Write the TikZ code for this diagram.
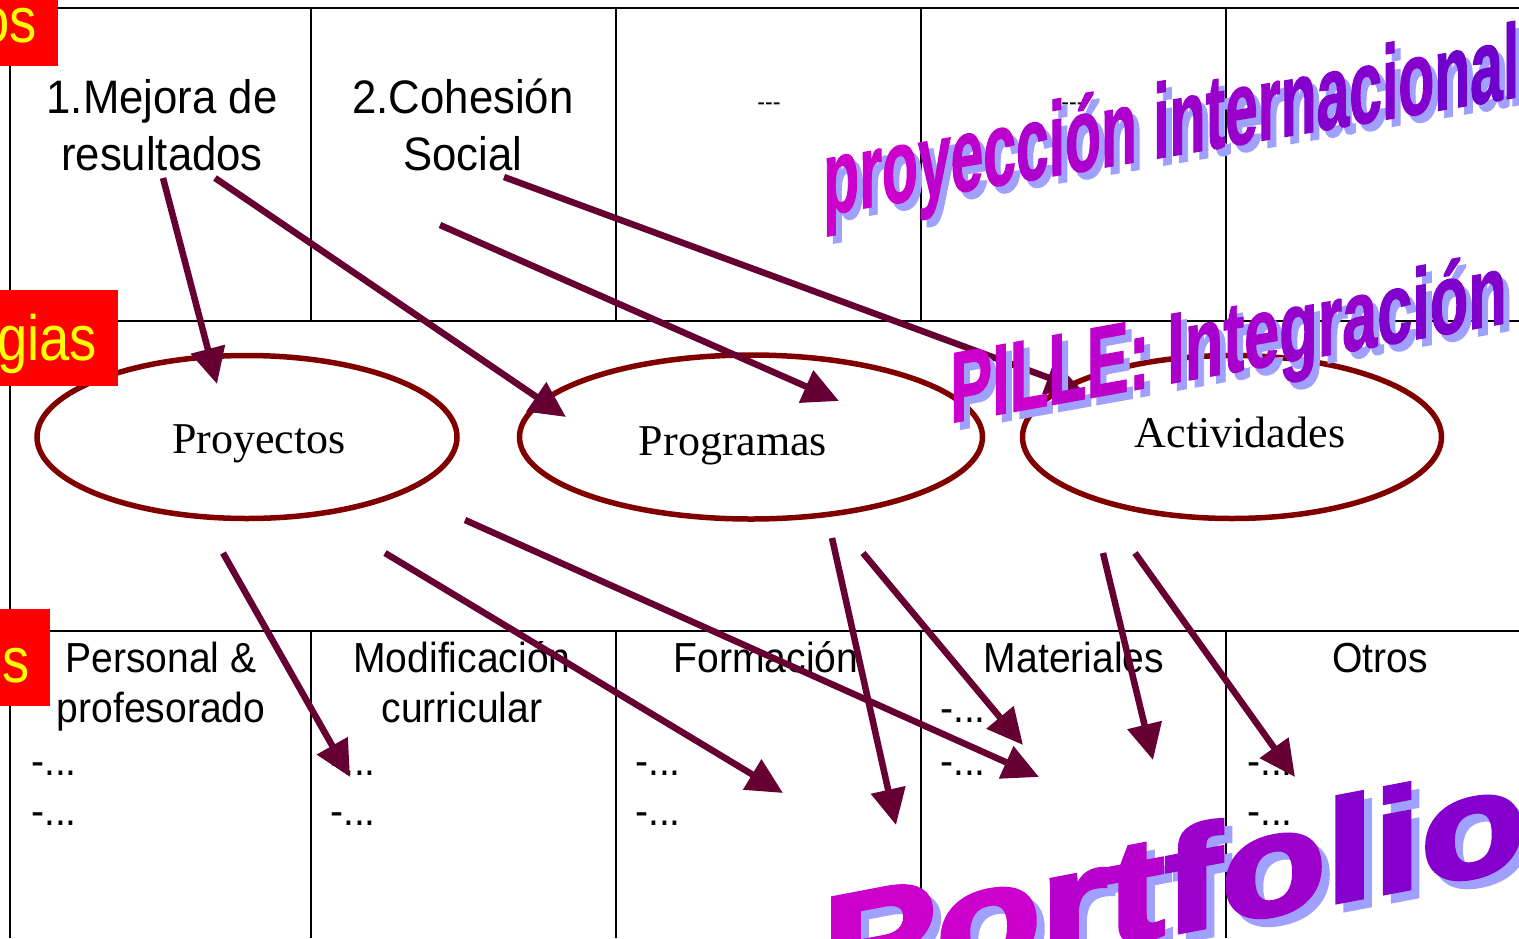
\documentclass[tikz,border=0pt]{standalone}
\usepackage{fontspec}
\usepackage{graphicx}
\setmainfont{Liberation Serif}
\newfontfamily\cellfont[FakeStretch=0.93]{Liberation Sans}
\newfontfamily\tagfont[FakeStretch=0.85]{Liberation Sans}
\newfontfamily\artfont[BoldFeatures={FakeBold=1.5}]{Liberation Sans}
\newfontfamily\heavyfont[BoldFeatures={FakeBold=3}]{Liberation Sans}
\usetikzlibrary{shapes.geometric, arrows.meta, positioning}
\definecolor{arrowwine}{RGB}{102, 0, 51}
\definecolor{ringred}{RGB}{128, 0, 0}
\definecolor{tagred}{RGB}{255, 0, 0}
\definecolor{tagyellow}{RGB}{255, 255, 0}
\definecolor{artmagenta}{RGB}{204, 0, 204}
\definecolor{artviolet}{RGB}{102, 0, 204}
\definecolor{artshadow}{RGB}{160, 160, 255}

\tikzset{
  gridline/.style={line width=2.8pt, black},
  ring/.style={ellipse, draw=ringred, line width=5.5pt, fill=white, inner sep=0pt},
  ringtext/.style={font=\fontsize{44}{50}\selectfont, anchor=base, inner sep=0pt},
  cellhead/.style={font=\cellfont\fontsize{47}{57}\selectfont, align=center, anchor=base, inner sep=0pt},
  areahead/.style={font=\cellfont\fontsize{42}{50}\selectfont, align=center, anchor=base, inner sep=0pt},
  dotitem/.style={font=\cellfont\fontsize{42}{50}\selectfont, anchor=base west, inner sep=0pt},
  tagbox/.style={fill=tagred, inner sep=0pt},
  tagtext/.style={font=\tagfont\fontsize{64}{64}\selectfont, text=tagyellow, anchor=base east, inner sep=0pt},
  relation/.style={draw=arrowwine, line width=6.5pt, -{Triangle[length=36pt, width=34pt]}},
  art/.style={font=\artfont\bfseries\fontsize{#1}{#1}\selectfont, anchor=base west, inner sep=0pt},
  artshade/.style={art=#1, text=artshadow},
  heavyart/.style={font=\heavyfont\bfseries\fontsize{#1}{#1}\selectfont, anchor=base west, inner sep=0pt},
  heavyshade/.style={heavyart=#1, text=artshadow}
}

\begin{document}
\begin{tikzpicture}[x=1pt, y=-1pt]
  \useasboundingbox (0,0) rectangle (1519,938);

  % Table grid
  \draw[gridline] (10,8) -- (1519,8);
  \draw[gridline] (10,321) -- (1519,321);
  \draw[gridline] (10,631) -- (1519,631);
  \draw[gridline] (10,8) -- (10,938);
  \draw[gridline] (311,8) -- (311,321);
  \draw[gridline] (616,8) -- (616,321);
  \draw[gridline] (921,8) -- (921,321);
  \draw[gridline] (1226,8) -- (1226,321);
  \draw[gridline] (311,631) -- (311,938);
  \draw[gridline] (616,631) -- (616,938);
  \draw[gridline] (921,631) -- (921,938);
  \draw[gridline] (1226,631) -- (1226,938);

  % Top row: aims
  \node[cellhead] (mejora) at (162,170) {1.Mejora de\\resultados};
  \node[cellhead] (cohesion) at (463,170) {2.Cohesión\\Social};
  \node[font=\cellfont\fontsize{25}{30}\selectfont, anchor=base, inner sep=0pt] (aim3) at (769,110) {-\kern0pt-\kern0pt-};
  \node[font=\cellfont\fontsize{25}{30}\selectfont, anchor=base, inner sep=0pt] (aim4) at (1073,110) {-\kern0pt-\kern0pt-};

  % Middle row: strategies
  \node[ring, minimum width=420pt, minimum height=163pt] (proy) at (247,437) {};
  \node[ringtext] (proy-t) at (259,453) {Proyectos};
  \node[ring, minimum width=463pt, minimum height=164pt] (prog) at (751,437) {};
  \node[ringtext] (prog-t) at (733,455) {Programas};
  \node[ring, minimum width=419pt, minimum height=163pt] (activ) at (1232,437) {};
  \node[ringtext] (activ-t) at (1240,447) {Actividades};

  % Bottom row: areas
  \node[areahead] (personal) at (161,722) {Personal \&\\profesorado};
  \node[areahead] (curric) at (462,722) {Modificación\\curricular};
  \node[areahead] (form) at (766,672) {Formación};
  \node[areahead] (mat) at (1074,672) {Materiales};
  \node[areahead] (otros) at (1380,672) {Otros};
  \node[dotitem] (personal-1) at (31,775) {-...};
  \node[dotitem] (personal-2) at (31,825) {-...};
  \node[dotitem] (curric-1) at (330,775) {-...};
  \node[dotitem] (curric-2) at (330,825) {-...};
  \node[dotitem] (form-1) at (635,775) {-...};
  \node[dotitem] (form-2) at (635,825) {-...};
  \node[dotitem] (mat-1) at (940,722) {-...};
  \node[dotitem] (mat-2) at (940,775) {-...};
  \node[dotitem] (otros-1) at (1247,775) {-...};
  \node[dotitem] (otros-2) at (1247,825) {-...};

  % Row tags (cut at the left edge)
  \node[tagbox, minimum width=98pt, minimum height=86pt] (tag-aims) at (9,23) {};
  \node[tagtext] (tag-aims-t) at (37,42) {os};
  \node[tagbox, minimum width=158pt, minimum height=96pt] (tag-strat) at (39,338) {};
  \node[tagtext] (tag-strat-t) at (97,360) {gias};
  \node[tagbox, minimum width=90pt, minimum height=97pt] (tag-areas) at (5,657.5) {};
  \node[tagtext] (tag-areas-t) at (30,682) {s};

  % Connector ends
  \coordinate (mejora-a) at (163,178);
  \coordinate (mejora-b) at (215,178);
  \coordinate (cohesion-a) at (440,225);
  \coordinate (cohesion-b) at (504,177);
  \coordinate (proy-in) at (217,384);
  \coordinate (prog-in-a) at (566,417);
  \coordinate (prog-in-b) at (839,401);
  \coordinate (activ-in) at (1082,390);
  \coordinate (proy-out-a) at (223,553);
  \coordinate (proy-out-b) at (385,553);
  \coordinate (proy-out-c) at (465,520);
  \coordinate (prog-out-a) at (832,538);
  \coordinate (prog-out-b) at (863,553);
  \coordinate (activ-out-a) at (1103,553);
  \coordinate (activ-out-b) at (1135,553);
  \coordinate (curric-in) at (350,777);
  \coordinate (form-in-a) at (783,793);
  \coordinate (form-in-b) at (896,825);
  \coordinate (mat-in-a) at (1039,777);
  \coordinate (mat-in-b) at (1023,745);
  \coordinate (mat-in-c) at (1153,760);
  \coordinate (otros-in) at (1295,777);

  % Aims to strategies
  \draw[relation] (mejora-a) -- (proy-in);
  \draw[relation] (mejora-b) -- (prog-in-a);
  \draw[relation] (cohesion-a) -- (prog-in-b);
  \draw[relation] (cohesion-b) -- (activ-in);

  % Strategies to areas
  \draw[relation] (proy-out-a) -- (curric-in);
  \draw[relation] (proy-out-b) -- (form-in-a);
  \draw[relation] (proy-out-c) -- (mat-in-a);
  \draw[relation] (prog-out-a) -- (form-in-b);
  \draw[relation] (prog-out-b) -- (mat-in-b);
  \draw[relation] (activ-out-a) -- (mat-in-c);
  \draw[relation] (activ-out-b) -- (otros-in);

  % Word art banners
  \node[artshade=105, yslant=0.17] (proyeccion-s) at (829,222) {\scalebox{0.56}[1]{proyección internacional}};
  \node[art=105, yslant=0.17] (proyeccion) at (823,215) {\scalebox{0.56}[1]{\textcolor{artmagenta}{pro}\textcolor{artviolet!15!artmagenta}{yec}\textcolor{artviolet!30!artmagenta}{ción }\textcolor{artviolet!50!artmagenta}{inter}\textcolor{artviolet!70!artmagenta}{nacio}\textcolor{artviolet!90!artmagenta}{nal}}};

  \node[artshade=100, yslant=0.18] (pille-s) at (956,430) {\scalebox{0.63}[1]{PILLE: Integración}};
  \node[art=100, yslant=0.18] (pille) at (950,423) {\scalebox{0.63}[1]{\textcolor{artmagenta}{PIL}\textcolor{artviolet!15!artmagenta}{LE: }\textcolor{artviolet!35!artmagenta}{Inte}\textcolor{artviolet!55!artmagenta}{gra}\textcolor{artviolet!75!artmagenta}{ción}}};

  \node[heavyshade=145, yslant=0.19] (portfolio-s) at (830,1008) {\scalebox{1.18}[1]{Portfolio}};
  \node[heavyart=145, yslant=0.19] (portfolio) at (822,1000) {\scalebox{1.18}[1]{\textcolor{artmagenta}{Po}\textcolor{artviolet!20!artmagenta}{rt}\textcolor{artviolet!45!artmagenta}{fo}\textcolor{artviolet!70!artmagenta}{lio}}};
\end{tikzpicture}
\end{document}
